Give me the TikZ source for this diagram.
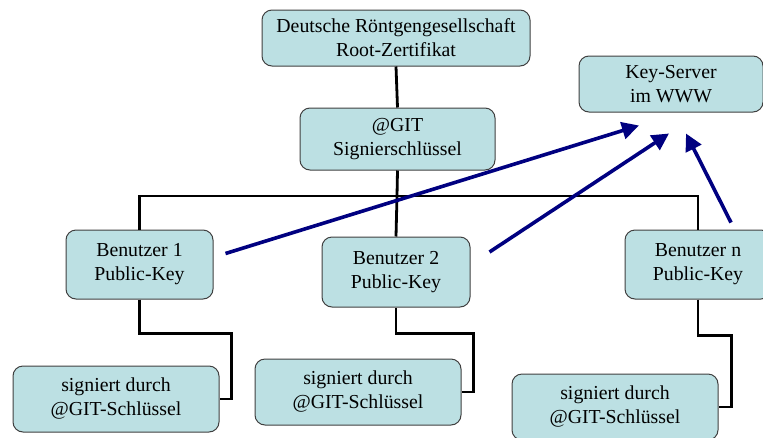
\documentclass[tikz,border=0pt]{standalone}
\usepackage{fontspec}
\setmainfont{Liberation Serif}
\usepackage{xcolor}
\usepackage{tikz}
\usetikzlibrary{positioning, arrows.meta}
\definecolor{kFill}{HTML}{BCE0E3}
\definecolor{kLine}{HTML}{404040}
\definecolor{kArrow}{HTML}{000080}

\tikzset{
  keybox/.style={draw=kLine, fill=kFill, rounded corners=10pt, line width=1pt,
    align=center, inner sep=0pt, font=\fontsize{19.8}{24}\selectfont},
  tree/.style={black, line width=2.8pt},
  upload/.style={kArrow, line width=3.6pt, -{Triangle[length=17pt,width=17pt]}}
}

\begin{document}
\begin{tikzpicture}[x=1pt, y=-1pt]
  \useasboundingbox (0,0) rectangle (763,437);
  \clip (0,0) rectangle (763,437);
  % boxes
  \node[keybox, minimum width=268pt, minimum height=56pt] (root) at (396,38) {Deutsche Röntgengesellschaft\\Root-Zertifikat};
  \node[keybox, minimum width=195pt, minimum height=62pt] (git) at (397.5,139) {@GIT\\Signierschlüssel};
  \node[keybox, minimum width=184pt, minimum height=56pt] (server) at (671,84) {Key-Server\\im WWW};
  \node[keybox, minimum width=147pt, minimum height=69pt] (b1) at (139.5,264.5) {Benutzer 1\\Public-Key};
  \node[keybox, minimum width=148pt, minimum height=70pt] (b2) at (396,272) {Benutzer 2\\Public-Key};
  \node[keybox, minimum width=146pt, minimum height=69pt] (bn) at (698,264.5) {Benutzer n\\Public-Key};
  \node[keybox, minimum width=206pt, minimum height=66pt] (s1) at (116,399) {signiert durch\\@GIT-Schlüssel};
  \node[keybox, minimum width=206pt, minimum height=66pt] (s2) at (358,392) {signiert durch\\@GIT-Schlüssel};
  \node[keybox, minimum width=206pt, minimum height=66pt] (sn) at (615,407) {signiert durch\\@GIT-Schlüssel};
  % tree
  \coordinate (bus) at (397,196);
  \draw[tree] (root.south) -- (git.north);
  \draw[tree] (git.south) -- (bus) -- (b2.north);
  \draw[tree] (b1.north) |- (bus) -| (bn.north);
  \draw[tree] (b1.south) -- ++(0,34) -| ([xshift=12pt]s1.east) -- (s1.east);
  \draw[tree] (b2.south) -- ++(0,26) -| ([xshift=12pt]s2.east) -- (s2.east);
  \draw[tree] (bn.south) -- ++(0,36) -| ([xshift=13pt]sn.east) -- (sn.east);
  % uploads
  \coordinate (u1) at ([xshift=12pt,yshift=11pt]b1.east);
  \coordinate (u2) at ([xshift=19pt,yshift=20pt]b2.east);
  \coordinate (u3) at ([xshift=33pt,yshift=7pt]bn.north);
  \coordinate (k1) at ([xshift=-32pt,yshift=-13pt]server.south);
  \coordinate (k2) at ([xshift=-2pt,yshift=-21pt]server.south);
  \coordinate (k3) at ([xshift=15pt,yshift=-21pt]server.south);
  \foreach \a/\b in {u1/k1,u2/k2,u3/k3}
    {\draw[upload] (\a) -- (\b);}
\end{tikzpicture}
\end{document}
